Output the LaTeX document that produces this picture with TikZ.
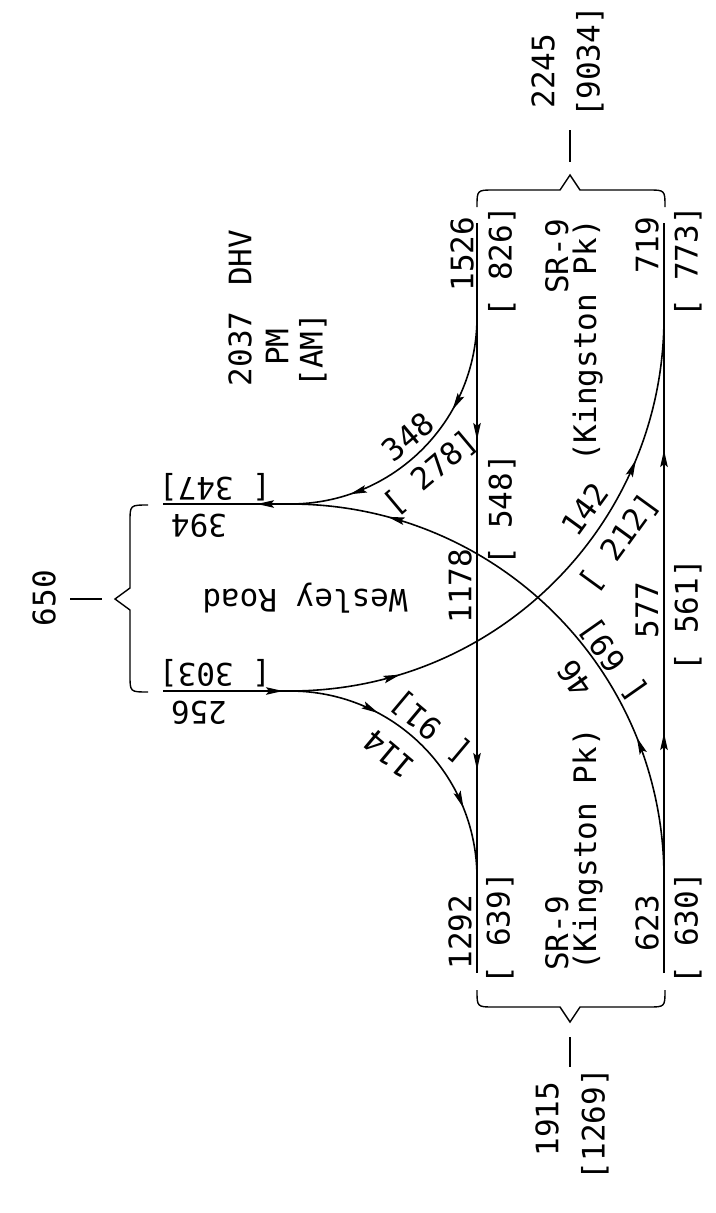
\documentclass[tikz,border=0pt]{standalone}
\usepackage{fontspec}
\setmonofont{DejaVu Sans Mono}
\usetikzlibrary{arrows.meta,decorations.markings}

\begin{document}
\begin{tikzpicture}[x=1pt, y=1pt,
  >={Stealth[length=17pt, width=7.5pt, inset=3pt]},
  lbl/.style={font=\ttfamily\fontsize{31}{28}\selectfont, inner sep=0pt},
  up/.style={lbl, rotate=90},
  down/.style={lbl, rotate=180},
  road/.style={line width=1.6pt},
  flow/.style 2 args={road, postaction={decorate}, decoration={markings,
    mark=at position #1 with {\arrow{>}},
    mark=at position #2 with {\arrow{>}}}},
  oneflow/.style={road, postaction={decorate}, decoration={markings,
    mark=at position #1 with {\arrow{>}}}},
  brace/.style={line width=1.4pt}]
\useasboundingbox (0,0) rectangle (715,-1213);

\coordinate (sbIn) at (477,-223);
\coordinate (sbOut) at (477,-973);
\coordinate (nbIn) at (664,-973);
\coordinate (nbOut) at (664,-223);
\coordinate (sbRt) at (477,-317);
\coordinate (sbMrg) at (477,-878);
\coordinate (nbLt) at (664,-878);
\coordinate (nbMrg) at (664,-317);
\coordinate (wbJn) at (290,-504);
\coordinate (wbEnd) at (163,-504);
\coordinate (ebBeg) at (163,-691);
\coordinate (ebJn) at (290,-691);

\draw[flow={217pt}{547pt}] (sbIn) -- (sbOut);
\draw[flow={240pt}{523pt}] (nbIn) -- (nbOut);
\draw[oneflow=33pt] (wbJn) -- (wbEnd);
\draw[oneflow=120pt] (ebBeg) -- (ebJn);
\draw[flow={97pt}{233pt}] (sbRt) to[out=-90, in=0] (wbJn);
\draw[flow={92pt}{222pt}] (ebJn) to[out=0, in=90] (sbMrg);
\draw[flow={144pt}{489pt}] (nbLt) to[out=90, in=0] (wbJn);
\draw[flow={112pt}{441pt}] (ebJn) to[out=0, in=-90] (nbMrg);

\draw[brace] (477,-207) .. controls (477,-190) .. (494,-190) -- (560,-190)
  -- (570,-175) -- (580,-190) -- (648,-190) .. controls (665,-190) .. (665,-207);
\draw[brace] (477,-990) .. controls (477,-1007) .. (494,-1007) -- (560,-1007)
  -- (570,-1022) -- (580,-1007) -- (648,-1007) .. controls (665,-1007) .. (665,-990);
\draw[brace] (148,-505) .. controls (130,-505) .. (130,-522) -- (130,-588)
  -- (115,-599) -- (130,-610) -- (130,-675) .. controls (130,-692) .. (148,-692);
\coordinate (tickN) at (570,-130);
\coordinate (tickS) at (570,-1037);
\coordinate (tickW) at (70,-599);
\draw[brace] (tickN) -- ++(0,-32);
\draw[brace] (tickS) -- ++(0,-30);
\draw[brace] (tickW) -- ++(32,0);

\node[up] (v2245) at (543,-71) {2245};
\node[up] (v9034) at (590,-62) {[9034]};
\node[up] (v1915) at (547,-1119) {1915};
\node[up] (v1269) at (595,-1124) {[1269]};
\node[up] (v650) at (44,-598) {650};
\node[up] (dhv) at (240,-308) {2037\ \kern7pt DHV};
\node[up] (pm) at (277,-347) {PM};
\node[up] (am) at (313,-350) {[AM]};

\node[up] (v1526) at (462,-254) {1526};
\node[up] (v826) at (502,-262) {[ 826]};
\node[up] (v719) at (647,-245) {719};
\node[up] (v773) at (688,-262) {[ 773]};
\node[up] (v1178) at (460,-586) {1178};
\node[up] (v548) at (502,-510) {[ 548]};
\node[up] (v577) at (647,-610) {577};
\node[up] (v561) at (688,-615) {[ 561]};
\node[up] (v1292) at (460,-932) {1292};
\node[up] (v639) at (500,-928) {[ 639]};
\node[up] (v623) at (647,-923) {623};
\node[up] (v630) at (688,-928) {[ 630]};
\node[up, align=right, anchor=east] (srN) at (574,-219) {SR-9\\(Kingston Pk)};
\node[up, align=left, anchor=west] (srS) at (574,-971) {SR-9\\(Kingston Pk)};

\node[down] (v347) at (215,-487) {[ 347]};
\node[down] (v394) at (199,-526) {394};
\node[down] (v303) at (215,-673) {[ 303]};
\node[down] (v256) at (199,-713) {256};
\node[down] (wesley) at (305,-598) {Wesley Road};

\node[lbl, rotate=40] (v348) at (408,-437) {348};
\node[lbl, rotate=40] (v278) at (431,-473) {[ 278]};
\node[lbl, rotate=140] (v114) at (389,-754) {114};
\node[lbl, rotate=140] (v91) at (431,-727) {[ 91]};
\node[lbl, rotate=54] (v142) at (585,-509) {142};
\node[lbl, rotate=54] (v212) at (620,-543) {[ 212]};
\node[lbl, rotate=125] (v46) at (575,-679) {46};
\node[lbl, rotate=125] (v69) at (614,-660) {[ 69]};
\end{tikzpicture}
\end{document}
